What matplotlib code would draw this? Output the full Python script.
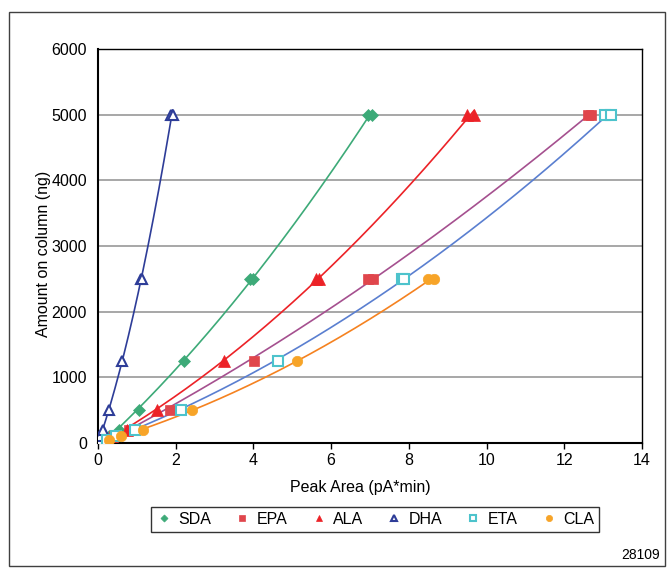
import numpy as np
import matplotlib
matplotlib.use("Agg")
import matplotlib.pyplot as plt
from matplotlib.patches import Rectangle

plt.rcParams['font.family'] = ['Liberation Sans', 'DejaVu Sans']

# amounts on column (ng) and peak areas (pA*min), duplicate injections
amt = [50, 100, 200, 500, 1250, 2500, 2500, 5000, 5000]
sda_x = [0.14, 0.28, 0.55, 1.05, 2.22, 3.90, 4.00, 6.95, 7.05]
epa_x = [0.20, 0.40, 0.80, 1.85, 4.01, 6.95, 7.08, 12.60, 12.70]
ala_x = [0.17, 0.35, 0.75, 1.51, 3.23, 5.60, 5.70, 9.50, 9.68]
dha_x = [0.03, 0.06, 0.12, 0.28, 0.63, 1.10, 1.12, 1.88, 1.92]
eta_x = [0.23, 0.46, 0.95, 2.13, 4.62, 7.82, 7.88, 13.05, 13.20]
cla_amt = [50, 100, 200, 500, 1250, 2500, 2500]
cla_x = [0.28, 0.58, 1.16, 2.43, 5.12, 8.50, 8.65]

series = [
    ("SDA", sda_x, amt, 'D', '#3DAA78', '#3DAA78', True, 6),
    ("EPA", epa_x, amt, 's', '#E0464C', '#A5508F', True, 7.5),
    ("ALA", ala_x, amt, '^', '#EC2227', '#EC2227', True, 8),
    ("DHA", dha_x, amt, '^', '#2E3D98', '#2E3D98', False, 7.5),
    ("ETA", eta_x, amt, 's', '#4DC3CC', '#5A7FD0', False, 7),
    ("CLA", cla_x, cla_amt, 'o', '#F7A428', '#F58220', True, 7.5),
]

fig = plt.figure(figsize=(6.72, 5.71), dpi=100)
ax = fig.add_axes([98/672, 1-443/571, (642-98)/672, (443-49)/571])

handles = []
for name, xs, ys, mk, mcol, lcol, filled, ms in series:
    xs = np.array(xs); ys = np.array(ys)
    c = np.polyfit(xs, ys, 2)
    xx = np.linspace(0, xs.max(), 200)
    ax.plot(xx, np.polyval(c, xx), color=lcol, lw=1.2, zorder=3)
    h, = ax.plot(xs, ys, linestyle='none', marker=mk, ms=ms,
                 markerfacecolor=mcol if filled else 'white',
                 markeredgecolor=mcol, markeredgewidth=1.5 if not filled else 0.5,
                 zorder=4, label=name)
    handles.append(h)

ax.set_xlim(0, 14)
ax.set_ylim(0, 6000)
ax.set_xticks(range(0, 15, 2))
ax.set_yticks(range(0, 6001, 1000))
ax.yaxis.grid(True, color='#A0A0A0', lw=1.3)
ax.set_axisbelow(True)
for s in ax.spines.values():
    s.set_color('black'); s.set_linewidth(1.0)
ax.spines['left'].set_linewidth(1.5)
ax.spines['bottom'].set_linewidth(1.5)
ax.tick_params(axis='x', direction='out', length=4, width=1, labelsize=11.5, pad=3)
ax.tick_params(axis='y', length=0, labelsize=11.5, pad=8)
ax.set_xlabel("Peak Area (pA*min)", fontsize=11.5, labelpad=5)
ax.set_ylabel("Amount on column (ng)", fontsize=11.5, labelpad=1)
ax.xaxis.set_label_coords((360-98)/(642-98), -0.095)
ax.yaxis.set_label_coords(-0.087, (443-254)/(443-49))

leg = fig.legend(handles=handles, loc='center', ncol=6,
                 bbox_to_anchor=(375/672, 1-519.5/571), fontsize=11.5,
                 frameon=True, fancybox=False, edgecolor='black',
                 markerscale=0.6, handlelength=1.0, handletextpad=0.4,
                 columnspacing=1.45, borderpad=0.3)
leg.get_frame().set_linewidth(1.0)

fig.text(641/672, 1-555/571, "28109", ha='center', va='center', fontsize=10)

fig.patches.append(Rectangle((9/672, 1-566/571), (665-9)/672, (566-12)/571,
                             transform=fig.transFigure, fill=False,
                             edgecolor='#404040', lw=1.0))

fig.savefig("out.png", dpi=100)
